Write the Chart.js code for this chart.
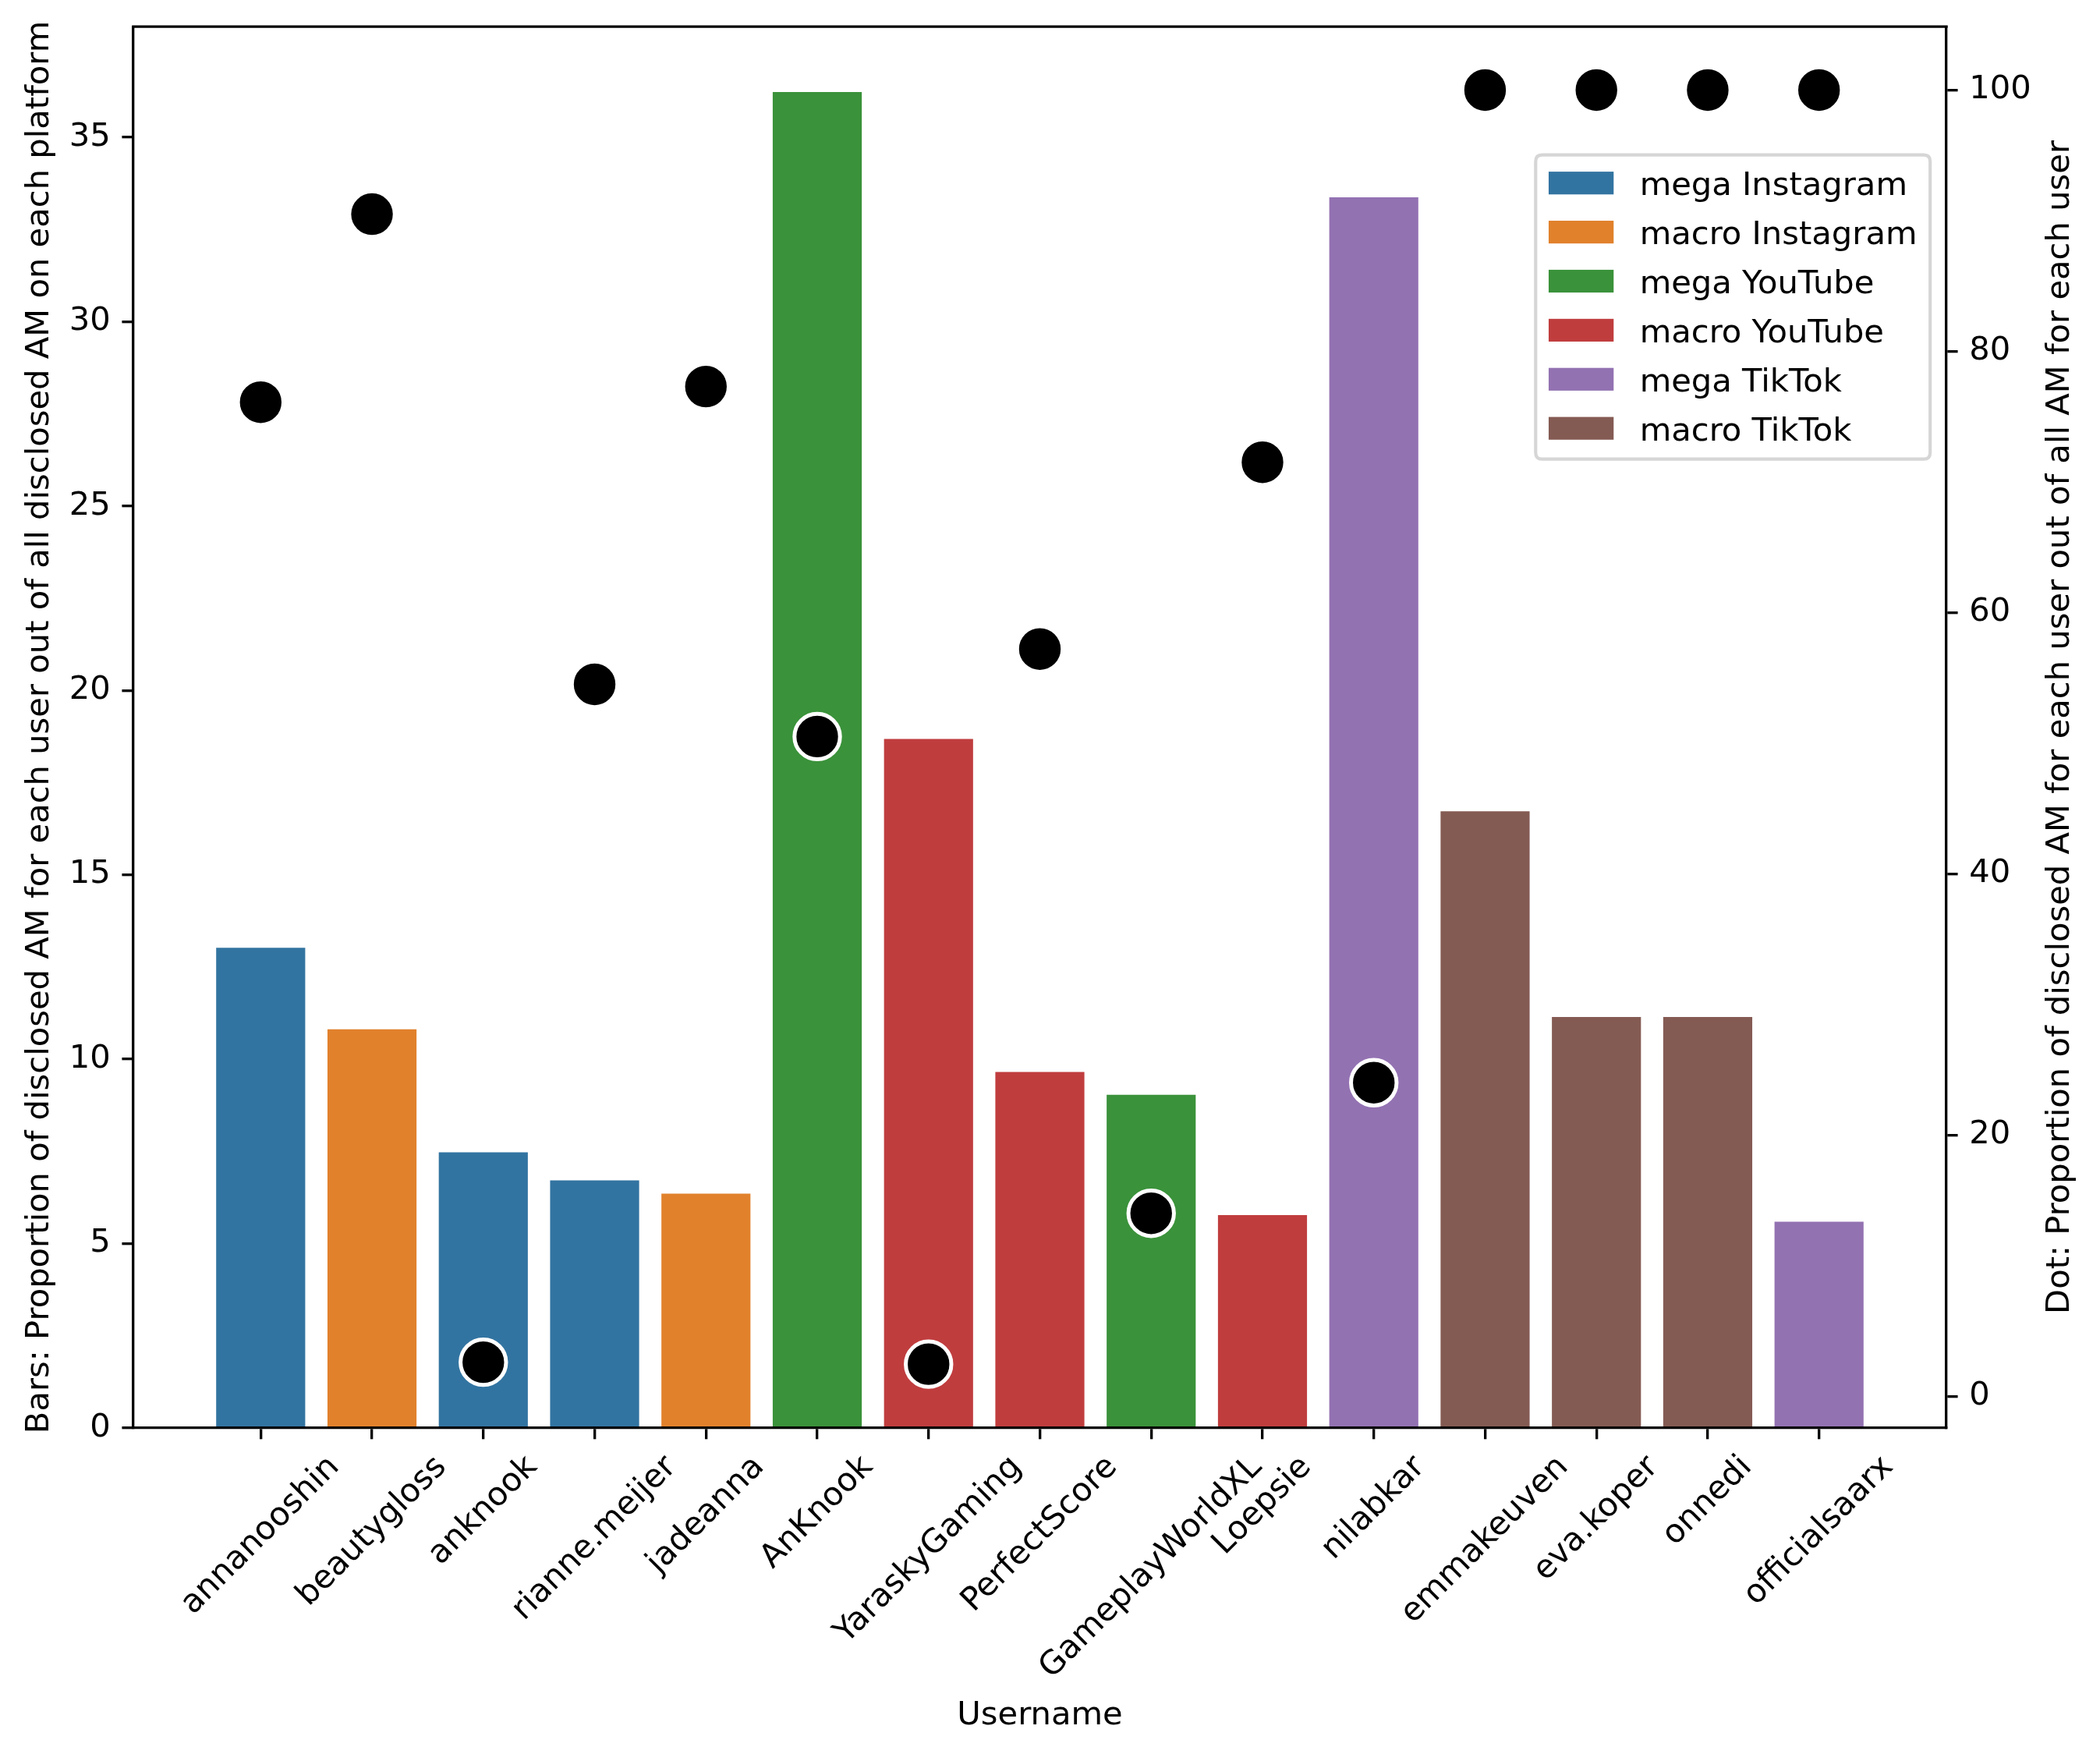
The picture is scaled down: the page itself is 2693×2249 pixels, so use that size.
<!DOCTYPE html>
<html><head><meta charset="utf-8">
<script src="https://cdn.jsdelivr.net/npm/chart.js@4.4.1/dist/chart.umd.min.js"></script>
<style>html,body{margin:0;padding:0;background:#fff;}canvas{display:block;}</style>
</head><body>
<canvas id="c" width="2693" height="2249"></canvas>
<script>
// ---- data ----
const usernames = ['annanooshin','beautygloss','anknook','rianne.meijer','jadeanna','AnKnook','YaraskyGaming','PerfectScore','GameplayWorldXL','Loepsie','nilabkar','emmakeuven','eva.koper','onnedi','officialsaarx'];
const barValues = [13.02,10.81,7.47,6.71,6.35,36.23,18.68,9.65,9.03,5.77,33.37,16.72,11.14,11.14,5.59];
const dotValues = [76.1,90.5,2.6,54.5,77.3,50.5,2.45,57.2,14.0,71.5,24.0,100,100,100,100];
const userGroup = ['mega Instagram','macro Instagram','mega Instagram','mega Instagram','macro Instagram','mega YouTube','macro YouTube','macro YouTube','mega YouTube','macro YouTube','mega TikTok','macro TikTok','macro TikTok','macro TikTok','mega TikTok'];
const groupNames = ['mega Instagram','macro Instagram','mega YouTube','macro YouTube','mega TikTok','macro TikTok'];
const groupColors = ['#3274a1','#e1812c','#3a923a','#c03d3e','#9372b2','#845b53'];
const leftTicks = [0,5,10,15,20,25,30,35];
const rightTicks = [0,20,40,60,80,100];
const leftTitle = 'Bars: Proportion of disclosed AM for each user out of all disclosed AM on each platform';
const rightTitle = 'Dot: Proportion of disclosed AM for each user out of all AM for each user';
const xTitle = 'Username';

// ---- style ----
const FS = 41.67;
const FAM = '"DejaVu Sans"';
const LW = 3.33;
const TL = 14.6;
Chart.defaults.font.family = FAM;
Chart.defaults.font.size = FS;
Chart.defaults.color = '#000';

const barDatasets = groupNames.map((g, gi) => {
  const pts = [];
  for (let i = 0; i < usernames.length; i++) {
    if (userGroup[i] === g) pts.push({x: i, y: barValues[i]});
  }
  return {
    type: 'bar', label: g, data: pts,
    backgroundColor: groupColors[gi], borderWidth: 0,
    xAxisID: 'x', yAxisID: 'y',
    grouped: false, barPercentage: 0.8, categoryPercentage: 1.0, order: 1
  };
});
const dotDataset = {
  type: 'scatter', label: 'dot',
  data: dotValues.map((v, i) => ({x: i, y: v})),
  xAxisID: 'x', yAxisID: 'y1',
  pointRadius: 29.2, pointBorderWidth: 5, pointBorderColor: '#ffffff',
  pointBackgroundColor: '#000000', order: 0, clip: false
};

const mplExtras = {
  id: 'mplExtras',
  afterDraw(chart) {
    const ctx = chart.ctx, ca = chart.chartArea;
    ctx.save();
    // top spine
    ctx.strokeStyle = '#000'; ctx.lineWidth = LW;
    ctx.beginPath();
    ctx.moveTo(ca.left - LW / 2, ca.top); ctx.lineTo(ca.right + LW / 2, ca.top);
    ctx.stroke();

    ctx.font = FS + 'px ' + FAM;
    ctx.fillStyle = '#000';
    // x tick labels, rotated 45°, centred on tick (matplotlib style)
    const xs = chart.scales.x;
    const top = ca.bottom + TL + TL;
    const h = 0.996 * FS;
    usernames.forEach((u, i) => {
      const px = xs.getPixelForValue(i);
      const w = ctx.measureText(u).width;
      const side = (w + h) * Math.SQRT1_2;
      ctx.save();
      ctx.translate(px, top + side / 2);
      ctx.rotate(-Math.PI / 4);
      ctx.textAlign = 'center'; ctx.textBaseline = 'alphabetic';
      ctx.fillText(u, 0, 0.262 * FS);
      ctx.restore();
    });

    // right axis title (reads bottom to top)
    const w100 = Math.max(...rightTicks.map(t => ctx.measureText(String(t)).width));
    const rx = ca.right + TL + TL + w100 + 0.4 * FS + h / 2;
    ctx.save();
    ctx.translate(rx, (ca.top + ca.bottom) / 2);
    ctx.rotate(-Math.PI / 2);
    ctx.textAlign = 'center'; ctx.textBaseline = 'alphabetic';
    ctx.fillText(rightTitle, 0, 0.262 * FS);
    ctx.restore();

    // legend
    const bars = chart.data.datasets.filter(d => d.type === 'bar');
    const maxW = Math.max(...bars.map(d => ctx.measureText(d.label).width));
    const pad = 0.4 * FS, hl = 2 * FS, hp = 0.8 * FS;
    const boxW = pad + hl + hp + maxW + pad;
    const boxRight = ca.right - 0.5 * FS;
    const boxLeft = boxRight - boxW;
    const boxTop = ca.top + 164.5;
    const rowH = 62.9;
    const boxH = 390;
    const r = 8.3;
    ctx.beginPath();
    ctx.moveTo(boxLeft + r, boxTop);
    ctx.lineTo(boxRight - r, boxTop);
    ctx.quadraticCurveTo(boxRight, boxTop, boxRight, boxTop + r);
    ctx.lineTo(boxRight, boxTop + boxH - r);
    ctx.quadraticCurveTo(boxRight, boxTop + boxH, boxRight - r, boxTop + boxH);
    ctx.lineTo(boxLeft + r, boxTop + boxH);
    ctx.quadraticCurveTo(boxLeft, boxTop + boxH, boxLeft, boxTop + boxH - r);
    ctx.lineTo(boxLeft, boxTop + r);
    ctx.quadraticCurveTo(boxLeft, boxTop, boxLeft + r, boxTop);
    ctx.closePath();
    ctx.fillStyle = 'rgba(255,255,255,0.8)';
    ctx.fill();
    ctx.strokeStyle = '#d6d6d6'; ctx.lineWidth = 4.17;
    ctx.stroke();
    bars.forEach((d, k) => {
      const cy = boxTop + 36 + k * rowH;
      ctx.fillStyle = d.backgroundColor;
      ctx.fillRect(boxLeft + pad, cy - 0.35 * FS, hl, 0.7 * FS);
      ctx.fillStyle = '#000';
      ctx.textAlign = 'left'; ctx.textBaseline = 'alphabetic';
      ctx.fillText(d.label, boxLeft + pad + hl + hp, cy + 15.7);
    });
    ctx.restore();
  }
};

const gridOpts = {display: true, drawOnChartArea: false, drawTicks: true, tickLength: TL,
  color: '#000', tickColor: '#000', lineWidth: LW, tickWidth: LW, offset: false};
const borderOpts = {display: true, color: '#000', width: LW, z: 1};
const zeroPad = s => { s.paddingTop = 0; s.paddingBottom = 0; s.paddingLeft = 0; s.paddingRight = 0; };

new Chart(document.getElementById('c'), {
  type: 'bar',
  data: {datasets: [...barDatasets, dotDataset]},
  options: {
    responsive: false, animation: false, devicePixelRatio: 1, events: [],
    layout: {padding: {top: 29.5, left: 0, right: 0, bottom: 0}},
    plugins: {legend: {display: false}, tooltip: {enabled: false}},
    scales: {
      x: {
        type: 'linear', axis: 'x', position: 'bottom', min: -1.144, max: 15.144, offset: false,
        afterBuildTicks: s => { s.ticks = usernames.map((_, i) => ({value: i})); },
        afterFit: s => { s.height = 418.3; zeroPad(s); },
        ticks: {display: false},
        grid: gridOpts, border: borderOpts,
        title: {display: true, text: xTitle, color: '#000', font: {size: FS}, padding: {top: 0, bottom: 24}}
      },
      y: {
        type: 'linear', axis: 'y', position: 'left', min: 0, max: 38.0,
        afterBuildTicks: s => { s.ticks = leftTicks.map(v => ({value: v})); },
        afterFit: s => { s.width = 171; zeroPad(s); },
        ticks: {color: '#000', font: {size: FS}, padding: TL},
        grid: gridOpts, border: borderOpts,
        title: {display: true, text: leftTitle, color: '#000', font: {size: FS}, padding: {top: 26.4, bottom: 0}}
      },
      y1: {
        type: 'linear', axis: 'y', position: 'right', min: -2.42, max: 104.85,
        afterBuildTicks: s => { s.ticks = rightTicks.map(v => ({value: v})); },
        afterFit: s => { s.width = 197; zeroPad(s); },
        ticks: {color: '#000', font: {size: FS}, padding: TL},
        grid: gridOpts, border: borderOpts,
        title: {display: false}
      }
    }
  },
  plugins: [mplExtras]
});
</script>
</body></html>
